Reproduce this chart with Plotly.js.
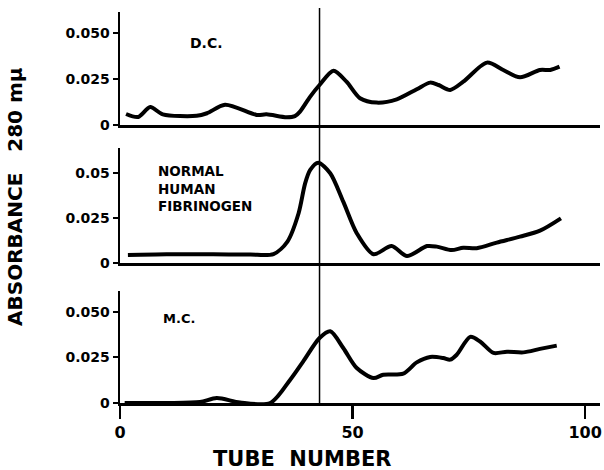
<!DOCTYPE html>
<html><head><meta charset="utf-8">
<script src="https://cdn.plot.ly/plotly-3.0.1.min.js"></script>
<style>html,body{margin:0;padding:0;background:#fff}</style>
</head><body><div id="chart" style="width:604px;height:470px"></div>
<script>
// D.C. panel (top)
const dcTube = [1.3, 3.9, 6.5, 9.2, 16.5, 18.7, 22.6, 29.4, 31.5, 35.8, 37.6, 38.7, 40.9, 42.9, 45.9, 48.7, 51.6, 55.2, 59.5, 63.8, 66.7, 68.5, 71.0, 73.8, 78.9, 82.4, 86.0, 90.3, 92.5, 94.5];
const dcAbs  = [0.006, 0.0044, 0.0098, 0.0058, 0.005, 0.0064, 0.011, 0.0055, 0.0058, 0.0042, 0.0048, 0.0073, 0.0155, 0.0218, 0.0296, 0.0236, 0.0146, 0.0122, 0.014, 0.0195, 0.0231, 0.0218, 0.0191, 0.0236, 0.034, 0.030, 0.026, 0.030, 0.030, 0.0318];
// Normal human fibrinogen (middle)
const nhTube = [1.7, 10, 20, 28, 33.0, 36.0, 38.4, 39.8, 40.9, 42.6, 45.2, 48.0, 50.9, 54.5, 58.4, 61.7, 66.0, 68.1, 71.3, 73.8, 76.7, 81.0, 86.0, 90.3, 94.8];
const nhAbs  = [0.0046, 0.005, 0.005, 0.0048, 0.0051, 0.012, 0.0276, 0.0441, 0.0515, 0.0555, 0.0497, 0.034, 0.0166, 0.005, 0.0095, 0.004, 0.0095, 0.0092, 0.0073, 0.0086, 0.0083, 0.0114, 0.0147, 0.018, 0.0248];
// M.C. panel (bottom)
const mcTube = [1.0, 10, 17.2, 20.8, 25.8, 32.3, 36.6, 39.4, 42.9, 45.2, 48.0, 50.9, 54.5, 56.6, 60.9, 63.8, 66.7, 69.5, 71.0, 72.4, 75.3, 77.4, 80.3, 83.2, 86.7, 90.3, 93.9];
const mcAbs  = [0.0, 0.0, 0.0005, 0.0027, 0.0003, 0.0, 0.0128, 0.0229, 0.0357, 0.0394, 0.0302, 0.0192, 0.0137, 0.0155, 0.0161, 0.0223, 0.0253, 0.0247, 0.0238, 0.0265, 0.0363, 0.0338, 0.0275, 0.0282, 0.0278, 0.0297, 0.0315];

const xTicks = [0, 50, 100];
const xTickText = ['0', '50', '100'];
const yTicks = [0, 0.025, 0.05];
const yTextTop = ['0', '0.025', '0.050'];
const yTextMid = ['0', '0.025', '0.05'];
const yTextBot = ['0', '0.025', '0.050'];
const markerTube = 42.9;

const F = 'DejaVu Sans, Arial, sans-serif';
const lineStyle = {color: '#000', width: 4, shape: 'spline', smoothing: 0.8};
function tr(x, y, xa, ya) {
  return {x: x, y: y, xaxis: xa, yaxis: ya, type: 'scatter', mode: 'lines',
          line: lineStyle, cliponaxis: false, hoverinfo: 'skip'};
}
const data = [
  tr(dcTube, dcAbs, 'x3', 'y3'),
  tr(nhTube, nhAbs, 'x2', 'y2'),
  tr(mcTube, mcAbs, 'x', 'y')
];

const L = 120, W = 480, B = 403, H = 393;
const pxX = p => (p - L) / W;
const pxY = p => (B - p) / H;

const xr = [0, 103.2];
function xax(anchor, show) {
  return {range: xr, anchor: anchor, showgrid: false, zeroline: false, showline: true,
          linecolor: '#000', linewidth: 2.5,
          tickvals: show ? xTicks : [], ticktext: show ? xTickText : [],
          showticklabels: show, ticks: show ? 'outside' : '', ticklen: 13, tickwidth: 2.5,
          tickcolor: '#000', tickfont: {family: F, size: 16, color: '#000', weight: 'bold'}};
}
function yax(anchor, dom, top, txt) {
  return {domain: dom, range: [0, top], anchor: anchor, showgrid: false, zeroline: false,
          showline: true, linecolor: '#000', linewidth: 2.5,
          tickvals: yTicks, ticktext: txt, ticks: 'outside', ticklen: 5, tickwidth: 2,
          tickcolor: '#000', tickfont: {family: F, size: 14, color: '#000', weight: 'bold'}};
}
function ann(text, px, py, size, opts) {
  return Object.assign({text: text, xref: 'paper', yref: 'paper', x: pxX(px), y: pxY(py),
    xanchor: 'left', yanchor: 'middle', showarrow: false, align: 'left',
    font: {family: F, size: size, color: '#000', weight: 'bold'}}, opts || {});
}

const layout = {
  width: 604, height: 470,
  margin: {l: L, r: 4, t: 10, b: 67},
  paper_bgcolor: '#fff', plot_bgcolor: '#fff',
  showlegend: false,
  xaxis: xax('y', true),
  xaxis2: xax('y2', false),
  xaxis3: xax('y3', false),
  yaxis: yax('x', [0, pxY(291)], 0.0615, yTextBot),
  yaxis2: yax('x2', [pxY(263.3), pxY(148)], 0.0636, yTextMid),
  yaxis3: yax('x3', [pxY(125), pxY(12)], 0.0616, yTextTop),
  shapes: [{type: 'line', xref: 'x', yref: 'paper', x0: markerTube, x1: markerTube,
            y0: 0, y1: pxY(8), line: {color: '#000', width: 1.5}}],
  annotations: [
    ann('D.C.', 188, 43, 14),
    ann('NORMAL<br>HUMAN<br>FIBRINOGEN', 156, 188, 13.5),
    ann('M.C.', 161, 318, 13),
    ann('TUBE  NUMBER', 302, 459, 21, {xanchor: 'center'}),
    ann('ABSORBANCE   280 m\u03bc', 15, 197, 20, {xanchor: 'center', textangle: -90})
  ]
};
Plotly.newPlot('chart', data, layout, {displayModeBar: false, staticPlot: true});
</script></body></html>
